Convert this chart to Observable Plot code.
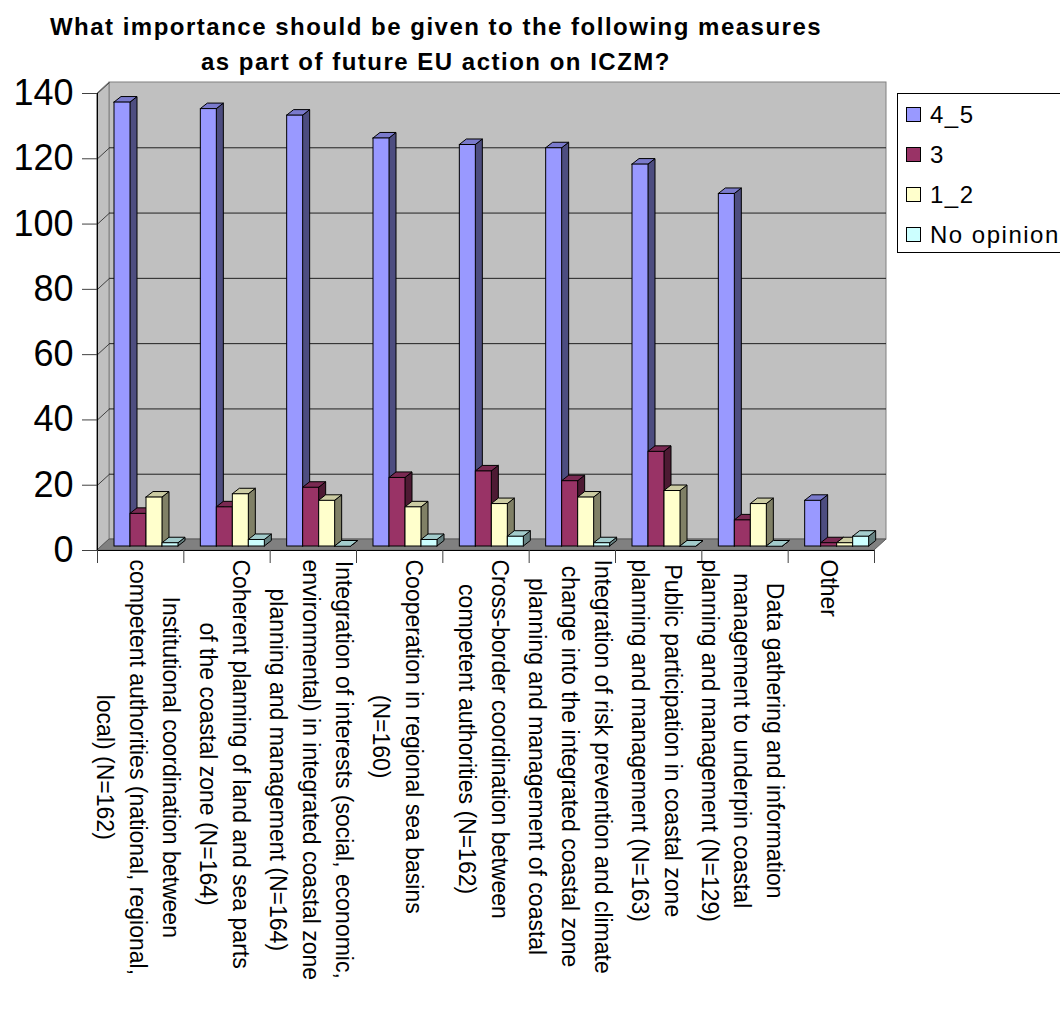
<!DOCTYPE html>
<html><head><meta charset="utf-8">
<script src="https://cdn.jsdelivr.net/npm/d3@7"></script>
<script src="https://cdn.jsdelivr.net/npm/@observablehq/plot@0.6"></script>
<style>
body{margin:0;background:#fff;overflow:hidden;font-family:"Liberation Sans",Arial,sans-serif}
#wrap{position:relative;width:1060px;height:1023px;overflow:hidden}
#chart{position:absolute;left:0;top:0}
#title{position:absolute;left:0;top:9px;width:872px;text-align:center;font-weight:bold;font-size:24px;line-height:35px;letter-spacing:1.5px;color:#000}
#legend{position:absolute;left:897px;top:93px;width:200px;height:160px;border:1px solid #000;background:#fff;box-sizing:border-box}
.item{position:absolute;left:8px;height:26px;line-height:26px;font-size:24px;letter-spacing:1.5px;white-space:nowrap;color:#000}
.sw{display:inline-block;width:13px;height:13px;border:1px solid #000;vertical-align:middle;margin-right:9px;position:relative;top:-2px}
</style></head><body>
<div id="wrap"><div id="chart"></div><div id="title">What importance should be given to the following measures<br>as part of future EU action on ICZM?</div><div id="legend"></div></div>
<script>
const categories = [
  "Institutional coordination between\ncompetent authorities (national, regional,\nlocal) (N=162)",
  "Coherent planning of land and sea parts\nof the coastal zone (N=164)",
  "Integration of interests (social, economic,\nenvironmental) in integrated coastal zone\nplanning and management (N=164)",
  "Cooperation in regional sea basins\n(N=160)",
  "Cross-border coordination between\ncompetent authorities (N=162)",
  "Integration of risk prevention and climate\nchange into the integrated coastal zone\nplanning and management of coastal",
  "Public participation in coastal zone\nplanning and management (N=163)",
  "Data gathering and information\nmanagement to underpin coastal\nplanning and management (N=129)",
  "Other"
];
const seriesNames = ["4_5", "3", "1_2", "No opinion"];
const values45 = [136, 134, 132, 125, 123, 122, 117, 108, 14];
const values3 = [10, 12, 18, 21, 23, 20, 29, 8, 1];
const values12 = [15, 16, 14, 12, 13, 15, 17, 13, 1];
const valuesNoOpinion = [1, 2, 0, 2, 3, 1, 0, 0, 3];
const yTicks = [0, 20, 40, 60, 80, 100, 120, 140];

const frontColors = ["#9999FF", "#993366", "#FFFFCC", "#CCFFFF"];
const topColors = ["#7A7ACC", "#7A2952", "#CCCCA3", "#A3CCCC"];
const sideColors = ["#4D4D80", "#4D1A33", "#808066", "#668080"];

const seriesValues = [values45, values3, values12, valuesNoOpinion];

// layout (pixels)
const W = 1060, H = 1023, ML = 97, MR = 186, MT = 93, MB = 473;
const n = categories.length;
const yMax = yTicks[yTicks.length - 1];
const pxX = (W - ML - MR) / n;
const pxY = (H - MT - MB) / yMax;
const toX = p => p / pxX, toY = p => p / pxY;
const wallDX = toX(12), wallDY = toY(11);
const barOff = toX(17), barW = toX(16), depX = toX(7), depY = toY(5.5);

const rows = categories.flatMap((c, i) => seriesNames.map((s, j) => {
  const x1 = i + barOff + j * barW;
  return {i, j, s, v: seriesValues[j][i], x1, x2: x1 + barW};
}));
const sidePts = rows.flatMap((r, k) => [
  {k, j: r.j, x: r.x2, y1: 0, y2: r.v},
  {k, j: r.j, x: r.x2 + depX, y1: depY, y2: r.v + depY}
]);
const topPts = rows.flatMap((r, k) => [
  {k, j: r.j, y: r.v, x1: r.x1, x2: r.x2},
  {k, j: r.j, y: r.v + depY, x1: r.x1 + depX, x2: r.x2 + depX}
]);

const ctx = document.createElement("canvas").getContext("2d");
ctx.font = '23px "Liberation Sans"';
const maxW = c => Math.max(...c.split("\n").map(l => ctx.measureText(l).width));

const labelMarks = categories.map((c, i) => Plot.text([c], {
  x: () => i + 0.5, y: () => 0, text: d => d, rotate: 90,
  textAnchor: "middle", lineAnchor: "middle", fontSize: 23, lineHeight: 1.43,
  dy: 9 + maxW(c) / 2, fill: "#000"
}));

const chart = Plot.plot({
  width: W, height: H,
  marginLeft: ML, marginRight: MR, marginTop: MT, marginBottom: MB,
  x: {type: "linear", domain: [0, n], label: null},
  y: {type: "linear", domain: [0, yMax], label: null},
  color: {type: "identity"},
  style: {fontFamily: '"Liberation Sans", Arial, sans-serif', background: "transparent", overflow: "visible", color: "#000"},
  marks: [
    // back wall
    Plot.rect([{x1: wallDX, x2: n + wallDX, y1: wallDY, y2: yMax + wallDY}], {x1: "x1", x2: "x2", y1: "y1", y2: "y2", fill: "#C0C0C0", stroke: "#808080"}),
    // left wall
    Plot.areaY([{x: 0, y1: 0, y2: yMax}, {x: wallDX, y1: wallDY, y2: yMax + wallDY}], {x: "x", y1: "y1", y2: "y2", fill: "#C0C0C0", stroke: "#808080"}),
    // floor
    Plot.areaX([{y: 0, x1: 0, x2: n}, {y: wallDY, x1: wallDX, x2: n + wallDX}], {y: "y", x1: "x1", x2: "x2", fill: "#808080", stroke: "#5a5a5a"}),
    // gridlines
    Plot.ruleY(yTicks.filter(t => t > 0 && t < yMax), {y: d => d + wallDY, x1: () => wallDX, x2: () => n + wallDX, stroke: "#202020"}),
    Plot.link(yTicks.filter(t => t > 0), {x1: () => 0, y1: d => d, x2: () => wallDX, y2: d => d + wallDY, stroke: "#404040"}),
    // bars
    Plot.areaY(sidePts, {x: "x", y1: "y1", y2: "y2", z: "k", fill: d => sideColors[d.j], stroke: "#000", strokeWidth: 1, dy: -4}),
    Plot.areaX(topPts, {y: "y", x1: "x1", x2: "x2", z: "k", fill: d => topColors[d.j], stroke: "#000", strokeWidth: 1, dy: -4}),
    Plot.rect(rows, {x1: "x1", x2: "x2", y1: () => 0, y2: "v", fill: d => frontColors[d.j], stroke: "#000", strokeWidth: 1, dy: -4}),
    // axes
    Plot.ruleX([0], {y1: () => 0, y2: () => yMax, stroke: "#000"}),
    Plot.ruleY([0], {x1: () => 0, x2: () => n, stroke: "#000"}),
    Plot.axisY(yTicks, {tickSize: 15, tickPadding: 9, fontSize: 36, stroke: "#404040", fill: "#000", label: null}),
    Plot.axisX(d3.range(n + 1), {tickSize: 13, tickFormat: () => "", stroke: "#404040", label: null}),
    ...labelMarks
  ]
});
document.getElementById("chart").appendChild(chart);

const legend = document.getElementById("legend");
seriesNames.forEach((s, j) => {
  const item = document.createElement("div");
  item.className = "item";
  item.style.top = (8 + j * 40) + "px";
  const sw = document.createElement("span");
  sw.className = "sw";
  sw.style.background = frontColors[j];
  item.appendChild(sw);
  item.appendChild(document.createTextNode(s));
  legend.appendChild(item);
});
</script>
</body></html>
